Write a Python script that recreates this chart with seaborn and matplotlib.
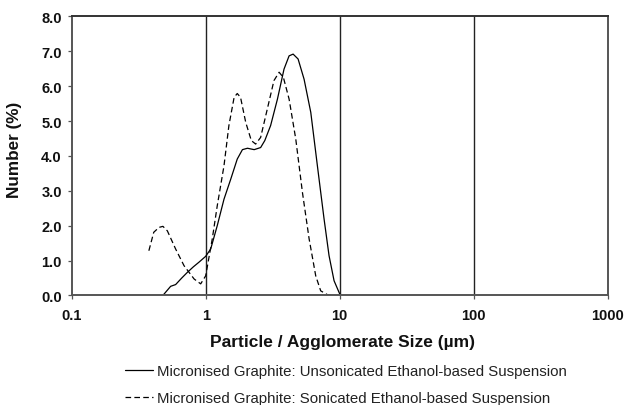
import matplotlib
matplotlib.use("Agg")
import matplotlib.pyplot as plt
import seaborn as sns
import pandas as pd
from matplotlib.ticker import FixedLocator, FuncFormatter, NullLocator

# --- data ---
size_unsonicated = [0.48, 0.548, 0.597, 0.66, 0.73, 0.81, 0.89, 1.0, 1.09, 1.22, 1.37, 1.54,
                    1.72, 1.88, 2.05, 2.30, 2.57, 2.76, 3.05, 3.43, 3.84, 4.19, 4.49, 4.89,
                    5.42, 6.08, 6.81, 7.64, 8.32, 9.07, 10.1]
num_unsonicated = [0.0, 0.26, 0.31, 0.49, 0.66, 0.82, 0.95, 1.12, 1.33, 2.0, 2.76, 3.34,
                   3.91, 4.18, 4.22, 4.18, 4.24, 4.44, 4.87, 5.63, 6.49, 6.87, 6.92, 6.78,
                   6.2, 5.25, 3.72, 2.19, 1.14, 0.42, 0.0]

size_sonicated = [0.377, 0.41, 0.449, 0.48, 0.518, 0.597, 0.69, 0.82, 0.918, 1.0, 1.12, 1.22,
                  1.37, 1.49, 1.63, 1.72, 1.82, 1.99, 2.19, 2.36, 2.57, 2.88, 3.23, 3.53,
                  3.80, 4.19, 4.70, 5.27, 5.91, 6.62, 7.21, 8.09, 9.07]
num_sonicated = [1.28, 1.81, 1.95, 1.98, 1.85, 1.33, 0.85, 0.47, 0.33, 0.56, 1.62, 2.57,
                 3.72, 4.87, 5.68, 5.79, 5.68, 4.96, 4.44, 4.34, 4.53, 5.34, 6.16, 6.40,
                 6.25, 5.63, 4.48, 2.95, 1.62, 0.56, 0.13, 0.02, 0.0]

label_unsonicated = "Micronised Graphite: Unsonicated Ethanol-based Suspension"
label_sonicated = "Micronised Graphite: Sonicated Ethanol-based Suspension"
x_ticks = [0.1, 1, 10, 100, 1000]
x_tick_labels = ["0.1", "1", "10", "100", "1000"]
y_ticks = [0, 1, 2, 3, 4, 5, 6, 7, 8]

sns.set_style("white")
plt.rcParams['font.family'] = ['Liberation Sans', 'DejaVu Sans']

fig = plt.figure(figsize=(6.28, 4.06), dpi=100)
ax = fig.add_axes([0.114, 0.270, 0.854, 0.687])

df_u = pd.DataFrame({"size": size_unsonicated, "num": num_unsonicated})
df_s = pd.DataFrame({"size": size_sonicated, "num": num_sonicated})

sns.lineplot(data=df_u, x="size", y="num", ax=ax, color="black", linewidth=0.9,
             label=label_unsonicated, legend=False)
sns.lineplot(data=df_s, x="size", y="num", ax=ax, color="black", linewidth=0.9,
             linestyle=(0, (4.5, 2.6)), label=label_sonicated, legend=False)

ax.set_xscale("log")
ax.set_xlim(0.1, 1000)
ax.set_ylim(0, 8)

# vertical gridlines
for xv in [1, 10, 100]:
    ax.axvline(xv, color="#222222", linewidth=1.0, zorder=0)

ax.xaxis.set_major_locator(FixedLocator(x_ticks))
ax.xaxis.set_minor_locator(NullLocator())
ax.set_xticklabels(x_tick_labels)
ax.set_yticks(y_ticks)
ax.yaxis.set_major_formatter(FuncFormatter(lambda v, p: f"{v:.1f}"))

for lab in ax.get_xticklabels() + ax.get_yticklabels():
    lab.set_fontweight("bold")
    lab.set_fontsize(10.5)
    lab.set_color("#111111")

ax.tick_params(axis="both", which="major", direction="out", length=3, width=0.9,
               color="#555555", bottom=True, left=True)
ax.tick_params(axis="y", pad=4)
ax.tick_params(axis="x", pad=6)

for sp in ax.spines.values():
    sp.set_visible(True)
    sp.set_color("#555555")
    sp.set_linewidth(1.4)
ax.spines["top"].set_color("#333333")

ax.set_xlabel("Particle / Agglomerate Size (µm)", fontsize=12.5, fontweight="bold", color="#111111")
ax.set_ylabel("Number (%)", fontsize=12.3, fontweight="bold", color="#111111")
ax.xaxis.set_label_coords(0.505, -0.137)
ax.yaxis.set_label_coords(-0.093, 0.524)

handles, labels = ax.get_legend_handles_labels()
fig.legend(handles, labels, loc="center left", bbox_to_anchor=(0.199, 0.0505),
           frameon=False, fontsize=10.8, handlelength=1.87, handletextpad=0.27,
           labelspacing=0.85, borderaxespad=0, borderpad=0, labelcolor="#222222")

fig.savefig("out.png", dpi=100, facecolor="white")
